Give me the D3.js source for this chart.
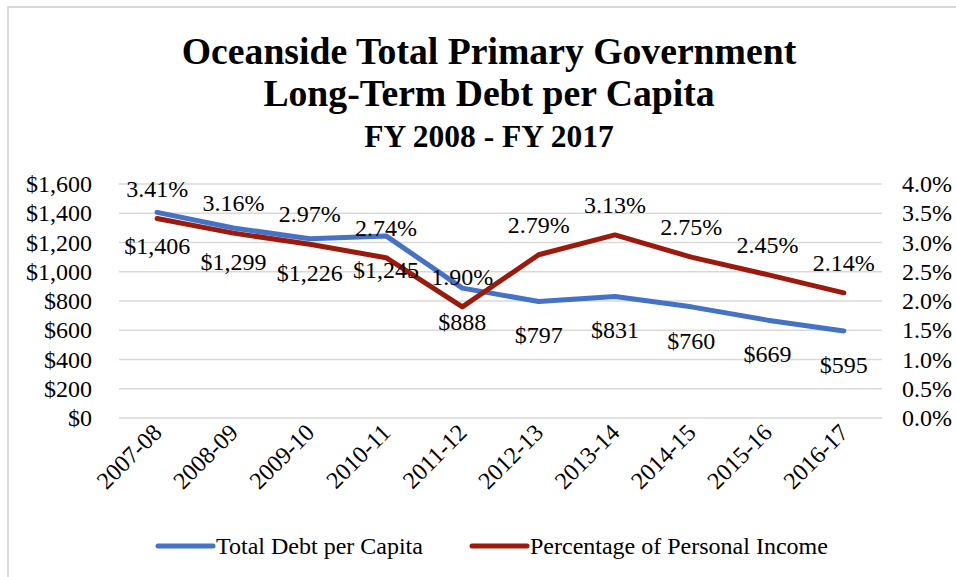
<!DOCTYPE html>
<html>
<head>
<meta charset="utf-8">
<script src="https://cdn.jsdelivr.net/npm/d3@7"></script>
<style>
  body { margin: 0; background: #fff; }
  svg { display: block; font-family: "Liberation Serif", "Times New Roman", serif; }
</style>
</head>
<body>
<div id="chart"></div>
<script>
const years = ["2007-08", "2008-09", "2009-10", "2010-11", "2011-12", "2012-13", "2013-14", "2014-15", "2015-16", "2016-17"];
const debtPerCapita = [1406, 1299, 1226, 1245, 888, 797, 831, 760, 669, 595];
const pctIncome = [3.41, 3.16, 2.97, 2.74, 1.90, 2.79, 3.13, 2.75, 2.45, 2.14];
const leftTicks = [0, 200, 400, 600, 800, 1000, 1200, 1400, 1600];
const rightTicks = [0, 0.5, 1, 1.5, 2, 2.5, 3, 3.5, 4];
const titleLines = ["Oceanside Total Primary Government", "Long-Term Debt per Capita", "FY 2008 - FY 2017"];
const seriesNames = ["Total Debt per Capita", "Percentage of Personal Income"];

const width = 956;
const height = 577;
const cl_blue = "#4472c4";
const cl_red = "#9c1a0b";
const cl_grid = "#d9d9d9";
const fs = 24;

const svg = d3.select("#chart")
  .append("svg")
  .attr("width", width)
  .attr("height", height);

// frame (only left/top edges are in view)
svg.append("rect")
  .attr("x", 8).attr("y", 7)
  .attr("width", 980).attr("height", 600)
  .attr("fill", "none")
  .attr("stroke", cl_grid)
  .attr("stroke-width", 2);

// title
const titleY = [64, 106, 147];
const titleSize = [37.7, 37.7, 31.5];
svg.selectAll(".title")
  .data(titleLines)
  .enter()
  .append("text")
  .attr("class", "title")
  .attr("x", 489)
  .attr("y", (d, i) => titleY[i])
  .attr("text-anchor", "middle")
  .attr("font-weight", "bold")
  .attr("font-size", (d, i) => titleSize[i])
  .text(d => d);

const x = d3.scalePoint().domain(years).range([119, 882]).padding(0.5);
const yL = d3.scaleLinear().domain([0, 1600]).range([418, 184]);
const yR = d3.scaleLinear().domain([0, 4]).range([418, 184]);

// gridlines
svg.append("g")
  .selectAll("line")
  .data(leftTicks)
  .enter()
  .append("line")
  .attr("x1", 119).attr("x2", 882)
  .attr("y1", d => yL(d)).attr("y2", d => yL(d))
  .attr("stroke", cl_grid)
  .attr("stroke-width", 1.5);

// left axis
const axL = svg.append("g")
  .attr("transform", "translate(104,0)")
  .call(d3.axisLeft(yL).tickValues(leftTicks).tickSize(0).tickPadding(12)
    .tickFormat(d => "$" + d3.format(",")(d)));
axL.select(".domain").remove();
axL.selectAll("text").attr("font-size", fs).attr("font-family", "Liberation Serif").attr("fill", "#000");

// right axis
const axR = svg.append("g")
  .attr("transform", "translate(890,0)")
  .call(d3.axisRight(yR).tickValues(rightTicks).tickSize(0).tickPadding(12)
    .tickFormat(d => d3.format(".1f")(d) + "%"));
axR.select(".domain").remove();
axR.selectAll("text").attr("font-size", fs).attr("font-family", "Liberation Serif").attr("fill", "#000");

// x axis labels rotated
svg.append("g")
  .selectAll("text")
  .data(years)
  .enter()
  .append("text")
  .attr("transform", d => "translate(" + (x(d) + 6) + ",434) rotate(-45)")
  .attr("text-anchor", "end")
  .attr("font-size", fs)
  .text(d => d);

// lines
const lineL = d3.line().x((d, i) => x(years[i])).y(d => yL(d));
const lineR = d3.line().x((d, i) => x(years[i])).y(d => yR(d));

svg.append("path")
  .datum(debtPerCapita)
  .attr("d", lineL)
  .attr("fill", "none")
  .attr("stroke", cl_blue)
  .attr("stroke-width", 5)
  .attr("stroke-linecap", "round")
  .attr("stroke-linejoin", "round");

svg.append("path")
  .datum(pctIncome)
  .attr("d", lineR)
  .attr("fill", "none")
  .attr("stroke", cl_red)
  .attr("stroke-width", 5)
  .attr("stroke-linecap", "round")
  .attr("stroke-linejoin", "round");

// data labels
svg.append("g")
  .selectAll("text")
  .data(pctIncome)
  .enter()
  .append("text")
  .attr("x", (d, i) => x(years[i]))
  .attr("y", d => yR(d) - 22)
  .attr("text-anchor", "middle")
  .attr("font-size", fs)
  .text(d => d.toFixed(2) + "%");

svg.append("g")
  .selectAll("text")
  .data(debtPerCapita)
  .enter()
  .append("text")
  .attr("x", (d, i) => x(years[i]))
  .attr("y", d => yL(d) + 42)
  .attr("text-anchor", "middle")
  .attr("font-size", fs)
  .text(d => "$" + d3.format(",")(d));

// legend
const legendX = [158, 472];
const legendColors = [cl_blue, cl_red];
const lg = svg.append("g")
  .selectAll("g")
  .data(seriesNames)
  .enter()
  .append("g")
  .attr("transform", (d, i) => "translate(" + legendX[i] + ",546)");
lg.append("line")
  .attr("x1", 0).attr("x2", 55)
  .attr("stroke", (d, i) => legendColors[i])
  .attr("stroke-width", 5)
  .attr("stroke-linecap", "round");
lg.append("text")
  .attr("x", 58)
  .attr("y", 8)
  .attr("font-size", fs)
  .text(d => d);
</script>
</body>
</html>
